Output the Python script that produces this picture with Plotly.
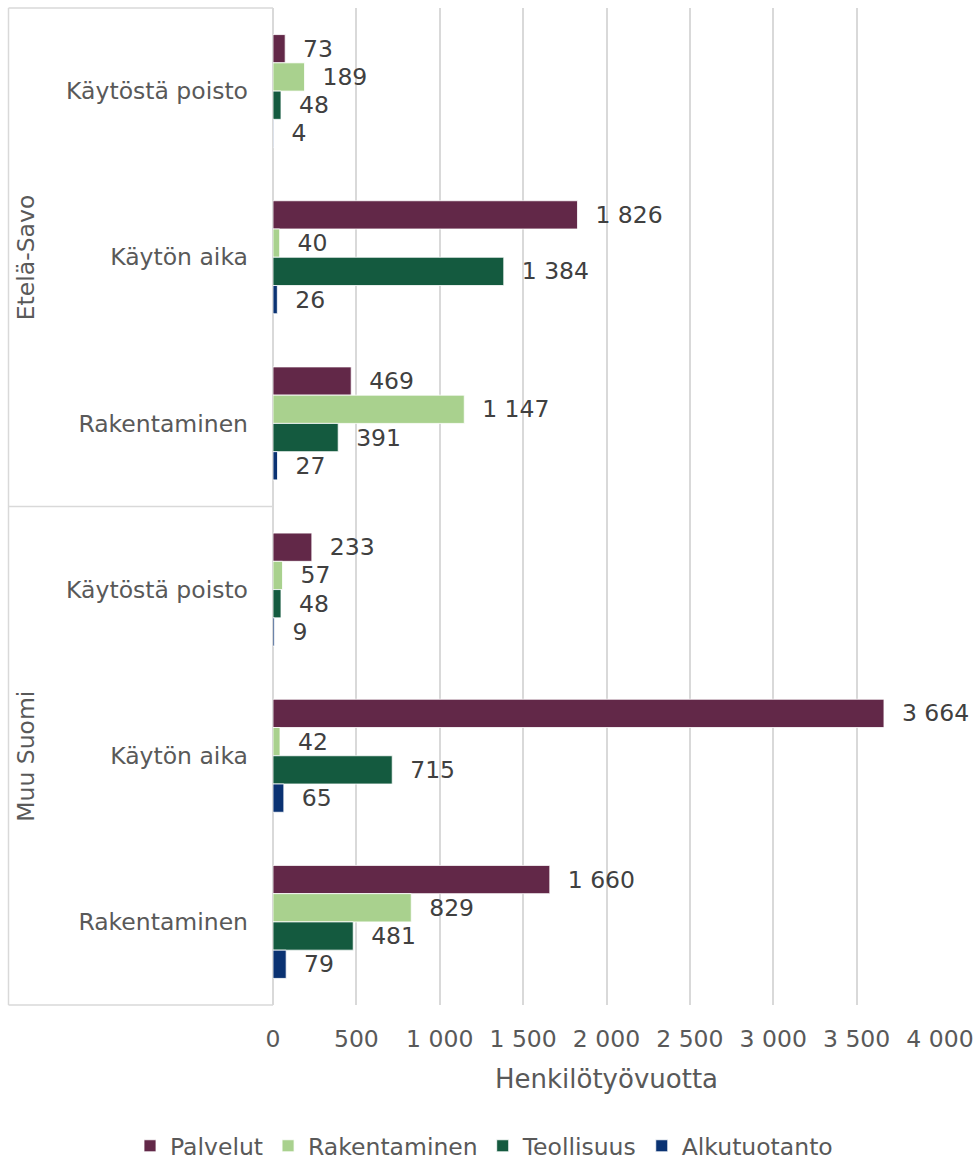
import plotly.graph_objects as go

groups = ["Etelä-Savo", "Muu Suomi"]
phases = ["Käytöstä poisto", "Käytön aika", "Rakentaminen"]
series = ["Palvelut", "Rakentaminen", "Teollisuus", "Alkutuotanto"]
colors = ["#622848", "#A9D18E", "#145A3F", "#0A3272"]

# values per series, category order top-to-bottom:
# Etelä-Savo: Käytöstä poisto, Käytön aika, Rakentaminen; Muu Suomi: same
palvelut = [73, 1826, 469, 233, 3664, 1660]
rakentaminen = [189, 40, 1147, 57, 42, 829]
teollisuus = [48, 1384, 391, 48, 715, 481]
alkutuotanto = [4, 26, 27, 9, 65, 79]
values = [palvelut, rakentaminen, teollisuus, alkutuotanto]

x_ticks = [0, 500, 1000, 1500, 2000, 2500, 3000, 3500, 4000]
x_title = "Henkilötyövuotta"

cat_labels = phases * len(groups)
positions = list(range(len(cat_labels)))

FONT = "DejaVu Sans, Verdana, sans-serif"
TXT = "#595959"
FS = 23.5

def fmt(v):
    return f"{v:,}".replace(",", " ")

fig = go.Figure()
for name, col, vals in zip(series, colors, values):
    fig.add_trace(go.Bar(
        name=name, orientation="h", x=vals, y=positions,
        marker=dict(color=col, line=dict(color="white", width=0.8)),
        text=["  " + fmt(v) for v in vals], textposition="outside",
        textfont=dict(size=FS, color="#404040", family=FONT),
        cliponaxis=False,
    ))

W, H = 976, 1161
L, R, T, B = 273, 36, 8, 1161 - 1005
pw, ph = W - L - R, H - T - B

def px2x(px):
    return (px - L) / pw

def py2y(py):
    return (H - B - py) / ph

shapes = []
line = dict(color="#D9D9D9", width=1.5)
shapes.append(dict(type="line", xref="paper", yref="paper", x0=px2x(8.5), x1=px2x(8.5), y0=0, y1=1, line=line))
for yy in [0, 0.5, 1]:
    shapes.append(dict(type="line", xref="paper", yref="paper", x0=px2x(8.5), x1=0, y0=yy, y1=yy, line=line))

annotations = []
for i, g in enumerate(groups):
    annotations.append(dict(text=g, xref="paper", yref="paper", x=px2x(26), y=0.75 - 0.5 * i,
                            showarrow=False, textangle=-90, font=dict(size=FS, color=TXT, family=FONT),
                            xanchor="center", yanchor="middle"))

fig.update_layout(
    width=W, height=H,
    margin=dict(l=L, r=R, t=T, b=B, autoexpand=False),
    paper_bgcolor="white", plot_bgcolor="white",
    barmode="group", bargap=0.32, bargroupgap=0,
    font=dict(family=FONT, color=TXT, size=FS),
    shapes=shapes, annotations=annotations,
    showlegend=True,
    legend=dict(orientation="h", x=px2x(130), xanchor="left", y=py2y(1146), yanchor="middle",
                font=dict(size=FS, color=TXT, family=FONT), itemwidth=30, tracegroupgap=0),
    xaxis=dict(range=[0, 4000], tickvals=x_ticks, ticktext=[fmt(t) for t in x_ticks],
               showgrid=True, gridcolor="#D9D9D9", gridwidth=1.5,
               zeroline=True, zerolinecolor="#D9D9D9", zerolinewidth=1.5,
               showline=False, ticks="", ticklabelstandoff=17, automargin=False,
               tickfont=dict(size=FS, color=TXT),
               title=dict(text=x_title, font=dict(size=26, color=TXT), standoff=18)),
    yaxis=dict(tickvals=positions, ticktext=cat_labels, autorange=False,
               range=[len(positions) - 0.5, -0.5], automargin=False,
               showgrid=False, zeroline=False, showline=False, ticks="",
               ticklabelstandoff=24, tickfont=dict(size=FS, color=TXT)),
)

fig.write_html("out.html", config={"displayModeBar": False},
               post_script="document.body.style.margin='0';document.body.style.overflow='hidden';")
